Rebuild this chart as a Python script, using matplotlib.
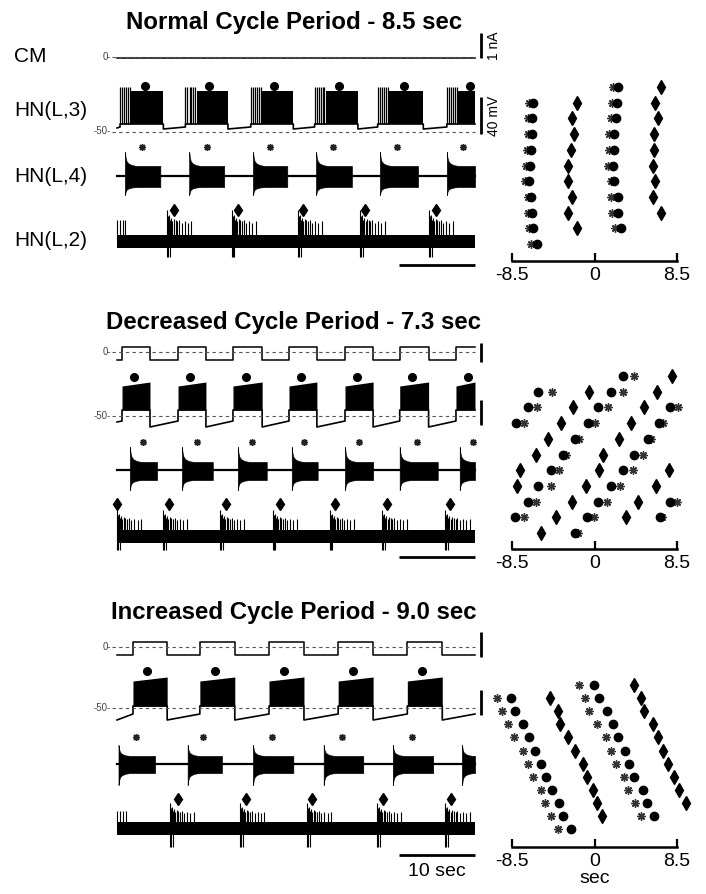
import matplotlib
matplotlib.use('Agg')
import matplotlib.pyplot as plt

plt.rcParams['font.family'] = ['Liberation Sans', 'DejaVu Sans']

W, H = 706, 894
PX_PER_SEC = 7.6      # 10 sec scale bar = 76 px
T0_PX = 117           # left edge of the traces
T_END = 47.1          # length of the traces (sec)

titles = ['Normal Cycle Period - 8.5 sec',
          'Decreased Cycle Period - 7.3 sec',
          'Increased Cycle Period - 9.0 sec']
trace_names = ['CM', 'HN(L,3)', 'HN(L,4)', 'HN(L,2)']
raster_ticks = [-8.5, 0, 8.5]
raster_ticklabels = ['-8.5', '0', '8.5']

# ---------------- traces: event times (sec from trace start) ----------------
# normal
n_cm_up, n_cm_down = [], []
n_hn3_on = [0.4, 9.0, 17.6, 26.0, 34.3, 43.4]
n_hn3_off = [6.1, 14.6, 23.2, 31.7, 40.3, 47.1]
n_hn3_dot = [3.7, 12.1, 20.7, 29.2, 37.7, 46.4]
n_hn4_on = [1.05, 9.5, 17.9, 26.2, 34.6, 43.4]
n_hn4_off = [5.7, 14.1, 22.4, 30.9, 39.6, 47.1]
n_hn4_ast = [3.3, 11.8, 20.1, 28.4, 36.8, 45.5]
n_hn2_on = [6.6, 15.1, 23.8, 32.0, 41.05]
n_hn2_dia = [7.5, 15.9, 24.5, 32.6, 42.0]
n_hn2_first = [0.05, 0.4, 0.75, 1.05]

# decreased
d_cm_up = [0.66, 8.03, 15.26, 22.63, 30.0, 37.2, 44.6]
d_cm_down = [4.34, 11.7, 19.1, 26.3, 33.7, 41.0]
d_hn3_on = [0.66, 8.03, 15.26, 22.63, 30.0, 37.2, 44.6]
d_hn3_off = [4.34, 11.7, 19.1, 26.3, 33.7, 41.0, 47.1]
d_hn3_dot = [2.24, 9.6, 16.97, 24.2, 31.6, 38.8, 46.2]
d_hn4_on = [1.7, 8.55, 15.9, 23.0, 30.0, 37.2, 45.1]
d_hn4_off = [5.26, 12.6, 19.7, 26.4, 33.7, 42.2, 47.1]
d_hn4_ast = [3.42, 10.5, 17.8, 24.6, 31.8, 39.5, 46.8]
d_hn2_on = [0.0, 6.05, 13.55, 20.5, 28.0, 34.9, 43.2]
d_hn2_dia = [0.0, 6.8, 14.3, 21.4, 28.7, 35.5, 43.8]
d_hn2_first = []

# increased
i_cm_up = [2.1, 10.9, 20.0, 29.1, 38.2]
i_cm_down = [6.6, 15.5, 24.6, 33.7, 42.8]
i_hn3_on = [2.1, 10.9, 20.0, 29.1, 38.2]
i_hn3_off = [6.6, 15.5, 24.6, 33.7, 42.8]
i_hn3_dot = [3.95, 12.9, 22.0, 31.05, 40.1]
i_hn4_on = [0.2, 9.3, 17.9, 27.2, 36.3, 45.4]
i_hn4_off = [5.0, 13.8, 23.2, 32.4, 41.6, 47.1]
i_hn4_ast = [2.5, 11.3, 20.4, 29.6, 38.8]
i_hn2_on = [6.97, 16.2, 25.0, 34.2, 43.2]
i_hn2_dia = [8.0, 17.0, 25.7, 35.0, 43.9]
i_hn2_first = [0.05, 0.4, 0.8, 1.2]

# spike pattern inside an HN(L,2) burst (read from one burst)
hn2_spk_dt = [0.0, 0.12, 0.25, 0.4, 0.55, 0.7, 0.9, 1.1, 1.35, 1.6, 1.9, 2.3, 2.7, 3.2]
hn2_spk_h = [1.0, 0.75, 0.8, 0.6, 0.7, 0.55, 0.65, 0.6, 0.55, 0.6, 0.5, 0.55, 0.5, 0.55]
hn2_dn_dt = [0.0, 0.15, 0.35]
# HN(L,4) burst onset envelope
hn4_env_dt = [0.0, 0.08, 0.2, 0.45, 0.9, 1.5]
hn4_env_frac = [0.0, 0.4, 0.65, 0.82, 0.94, 1.0]
# HN(L,3) initial spikes in the normal panel
hn3_lead_dt = [0.0, 0.27, 0.54, 0.8, 1.05, 1.3]

# ---------------- rasters: (row, time in sec) ----------------
n_dot_rows = [1, 2, 3, 4, 5, 6, 7, 8, 9, 10, 0, 1, 2, 3, 4, 5, 6, 7, 8, 9]
n_dot_t = [-6.3, -6.4, -6.4, -6.5, -6.6, -6.7, -6.5, -6.4, -6.3, -5.9,
           2.4, 2.3, 2.2, 2.0, 2.0, 1.9, 2.0, 2.4, 2.4, 2.7]
n_ast_rows = [1, 2, 3, 4, 5, 6, 7, 8, 9, 10, 0, 1, 2, 3, 4, 5, 6, 7, 8, 9]
n_ast_t = [-6.8, -6.9, -6.9, -7.0, -7.1, -7.2, -6.9, -6.9, -6.8, -6.5,
           1.9, 1.8, 1.7, 1.5, 1.5, 1.4, 1.65, 1.65, 1.85, 2.15]
n_dia_rows = [1, 2, 3, 4, 5, 6, 7, 8, 9, 0, 1, 2, 3, 4, 5, 6, 7, 8]
n_dia_t = [-1.8, -2.3, -2.1, -2.4, -2.7, -2.7, -2.3, -2.7, -1.8,
           6.8, 6.2, 6.5, 6.1, 6.1, 6.0, 6.2, 6.0, 6.9]

d_dot_rows = [0, 1, 1, 2, 2, 2, 3, 3, 3, 4, 4, 5, 5, 6, 6, 7, 7, 8, 8, 8, 9, 9, 9, 10]
d_dot_t = [2.9, -5.8, 1.75, -6.9, 0.4, 7.8, -8.1, -0.7, 6.6, -2.0, 5.5, -3.2, 4.1,
           -4.5, 2.9, -5.8, 1.65, -6.9, 0.4, 7.8, -8.2, -0.8, 6.7, -2.0]
d_ast_rows = [0, 1, 1, 2, 2, 2, 3, 3, 3, 4, 4, 5, 5, 6, 6, 7, 7, 8, 8, 8, 9, 9, 9, 10]
d_ast_t = [4.1, -4.4, 2.9, -5.9, 1.4, 8.65, -7.3, 0.1, 7.1, -1.55, 5.8, -2.9, 4.95,
           -3.7, 4.0, -4.5, 2.6, -6.0, 1.25, 8.55, -7.3, -0.1, 6.95, -1.7]
d_dia_rows = [0, 1, 1, 2, 2, 3, 3, 4, 4, 5, 5, 6, 6, 6, 7, 7, 7, 8, 8, 9, 9, 10]
d_dia_t = [8.0, -0.6, 6.4, -2.2, 5.05, -3.5, 3.8, -4.8, 2.5, -6.0, 0.9,
           -7.7, 0.5, 7.7, -8.0, -0.9, 6.3, -2.3, 4.5, -4.0, 3.2, -5.5]

i_dot_rows = [1, 2, 3, 4, 5, 6, 7, 8, 9, 10, 11, 0, 1, 2, 3, 4, 5, 6, 7, 8, 9, 10]
i_dot_t = [-8.65, -8.15, -7.4, -6.7, -6.1, -5.55, -4.95, -4.35, -3.7, -3.2, -2.45,
           -0.1, 0.5, 1.25, 1.95, 2.45, 3.1, 3.6, 4.1, 4.95, 5.45, 6.1]
i_ast_rows = [1, 2, 3, 4, 5, 6, 7, 8, 9, 10, 11, 0, 1, 2, 3, 4, 5, 6, 7, 8, 9, 10]
i_ast_t = [-10.0, -9.5, -8.95, -8.25, -7.4, -6.9, -6.3, -5.55, -5.05, -4.45, -3.8,
           -1.55, -0.95, -0.6, 0.3, 1.15, 1.75, 2.25, 3.0, 3.4, 4.2, 4.75]
i_dia_rows = [1, 2, 3, 4, 5, 6, 7, 8, 9, 10, 0, 1, 2, 3, 4, 5, 6, 7, 8, 9]
i_dia_t = [-4.55, -3.8, -3.6, -2.7, -2.05, -1.15, -0.8, -0.2, 0.3, 0.8,
           4.1, 4.75, 5.05, 6.0, 6.5, 7.1, 7.6, 8.15, 8.75, 9.4]

# ---------------- layout (pixel rows) ----------------
panels = [
    dict(title_y=23, box=(30, 275),
         cm=dict(hi=58, lo=58, zero=56.5, up=n_cm_up, down=n_cm_down, bar=(33, 58)),
         hn3=dict(on=n_hn3_on, off=n_hn3_off, dot=n_hn3_dot, dot_y=86, top0=91, top1=91,
                  spk_top=87, bot=124, first=128, pre=127, post=129, zero=131.5,
                  lead=1.5, bar=(97, 134)),
         hn4=dict(on=n_hn4_on, off=n_hn4_off, ast=n_hn4_ast, ast_y=147, base=176,
                  pk_top=152, pk_bot=195, pl_top=166, pl_bot=187),
         hn2=dict(on=n_hn2_on, dia=n_hn2_dia, first=n_hn2_first, dia_y=210, b_top=235,
                  b_bot=248, tall=210, down=257),
         sbar_y=265,
         raster=dict(top=70, axis=261, row0=87, dy=15.7, dot=(n_dot_rows, n_dot_t),
                     ast=(n_ast_rows, n_ast_t), dia=(n_dia_rows, n_dia_t))),
    dict(title_y=322, box=(335, 565),
         cm=dict(hi=347, lo=360, zero=352, up=d_cm_up, down=d_cm_down, bar=(343, 362)),
         hn3=dict(on=d_hn3_on, off=d_hn3_off, dot=d_hn3_dot, dot_y=377, top0=386, top1=382,
                  spk_top=386, bot=410, first=422, pre=421, post=427, zero=416,
                  lead=0, bar=(400, 425)),
         hn4=dict(on=d_hn4_on, off=d_hn4_off, ast=d_hn4_ast, ast_y=442, base=470,
                  pk_top=447, pk_bot=490, pl_top=462, pl_bot=480),
         hn2=dict(on=d_hn2_on, dia=d_hn2_dia, first=d_hn2_first, dia_y=504, b_top=530,
                  b_bot=543, tall=510, down=550),
         sbar_y=557,
         raster=dict(top=360, axis=549, row0=376, dy=15.7, dot=(d_dot_rows, d_dot_t),
                     ast=(d_ast_rows, d_ast_t), dia=(d_dia_rows, d_dia_t))),
    dict(title_y=613, box=(625, 880),
         cm=dict(hi=642, lo=655, zero=647, up=i_cm_up, down=i_cm_down, bar=(632, 657)),
         hn3=dict(on=i_hn3_on, off=i_hn3_off, dot=i_hn3_dot, dot_y=671, top0=681, top1=677,
                  spk_top=681, bot=706, first=720, pre=714, post=720, zero=708,
                  lead=0, bar=(690, 715)),
         hn4=dict(on=i_hn4_on, off=i_hn4_off, ast=i_hn4_ast, ast_y=737, base=764,
                  pk_top=745, pk_bot=785, pl_top=756, pl_bot=773),
         hn2=dict(on=i_hn2_on, dia=i_hn2_dia, first=i_hn2_first, dia_y=799, b_top=822,
                  b_bot=835, tall=803, down=847),
         sbar_y=855,
         raster=dict(top=670, axis=847, row0=685, dy=13.1, dot=(i_dot_rows, i_dot_t),
                     ast=(i_ast_rows, i_ast_t), dia=(i_dia_rows, i_dia_t))),
]

AST = (8, 2, 0)   # asterisk marker


def px_t(px):
    return (px - T0_PX) / PX_PER_SEC


def draw_cm(ax, c):
    xs, ys = [0.0], [c['lo']]
    events = sorted([(t, c['hi']) for t in c['up']] + [(t, c['lo']) for t in c['down']])
    for t, lev in events:
        xs += [t, t]
        ys += [ys[-1], lev]
    xs.append(T_END)
    ys.append(ys[-1])
    ax.plot(xs, ys, color='black', lw=1.1)
    ax.plot([px_t(112), T_END], [c['zero'], c['zero']], color='#555', lw=0.8, ls=(0, (3, 3)))
    ax.text(px_t(111), c['zero'], '0-', ha='right', va='center', fontsize=7, color='#444')


def draw_hn3(ax, c):
    xs, ys = [0.0], [c['first']]
    for s, e in zip(c['on'], c['off']):
        xs += [s, s, e]
        ys += [c['pre'], c['bot'], c['bot']]
        if e < T_END:
            xs += [e]
            ys += [c['post']]
        if c['lead'] > 0:
            ax.vlines([s + d for d in hn3_lead_dt], c['bot'], c['spk_top'], color='black', lw=0.9)
        ax.fill_between([s + c['lead'], e], [c['top0'], c['top1']], c['bot'], color='black', lw=0)
    if xs[-1] < T_END:
        xs.append(T_END)
        ys.append(c['pre'])
    ax.plot(xs, ys, color='black', lw=1.2)
    ax.plot([px_t(112), T_END], [c['zero'], c['zero']], color='#555', lw=0.8, ls=(0, (3, 3)))
    ax.text(px_t(111), c['zero'], '-50-', ha='right', va='center', fontsize=7, color='#444')
    ax.plot(c['dot'], [c['dot_y']] * len(c['dot']), 'o', color='black', ms=5.5, clip_on=False)


def draw_hn4(ax, c):
    ax.plot([0, T_END], [c['base'], c['base']], color='black', lw=1.6)
    for s, e in zip(c['on'], c['off']):
        xs = [s + d for d in hn4_env_dt if s + d < e] + [e]
        fr = hn4_env_frac[:len(xs) - 1] + [1.0]
        tops = [c['pk_top'] + f * (c['pl_top'] - c['pk_top']) for f in fr]
        bots = [c['pk_bot'] + f * (c['pl_bot'] - c['pk_bot']) for f in fr]
        ax.fill_between(xs, tops, bots, color='black', lw=0.5)
    ax.plot(c['ast'], [c['ast_y']] * len(c['ast']), marker=AST, ls='none', color='#222',
            ms=5, mew=1.0, clip_on=False)


def draw_hn2(ax, c):
    mid = 0.5 * (c['b_top'] + c['b_bot'])
    ax.fill_between([0, T_END], c['b_top'], c['b_bot'], color='black', lw=0)
    typ = c['b_top'] - 0.6 * (c['b_top'] - c['tall'])
    if c['first']:
        ax.vlines(c['first'], mid, typ, color='black', lw=0.8)
    for s in c['on']:
        ts = [s + d for d in hn2_spk_dt if s + d < T_END]
        tops = [c['b_top'] - h * (c['b_top'] - c['tall']) for h in hn2_spk_h[:len(ts)]]
        ax.vlines(ts, mid, tops, color='black', lw=0.8)
        ax.vlines([s + d for d in hn2_dn_dt], mid, c['down'], color='black', lw=0.8)
    ax.plot(c['dia'], [c['dia_y']] * len(c['dia']), marker='d', ls='none', color='black',
            ms=6.5, clip_on=False)


fig = plt.figure(figsize=(W / 100, H / 100), dpi=100)

for k, p in enumerate(panels):
    y0, y1 = p['box']
    ax = fig.add_axes([95 / W, 1 - y1 / H, (500 - 95) / W, (y1 - y0) / H])
    ax.set_xlim(px_t(95), px_t(500))
    ax.set_ylim(y1, y0)
    ax.axis('off')

    fig.text(294 / W, 1 - p['title_y'] / H, titles[k], ha='center', va='center',
             fontsize=17.3, fontweight='bold')

    draw_cm(ax, p['cm'])
    draw_hn3(ax, p['hn3'])
    draw_hn4(ax, p['hn4'])
    draw_hn2(ax, p['hn2'])

    # scale bars
    xb = px_t(481)
    ax.plot([xb, xb], p['cm']['bar'], color='black', lw=2, solid_capstyle='butt')
    ax.plot([xb, xb], p['hn3']['bar'], color='black', lw=2, solid_capstyle='butt')
    ax.plot([T_END - 10, T_END], [p['sbar_y']] * 2, color='black', lw=2, solid_capstyle='butt')
    if k == 0:
        ax.text(px_t(494), sum(p['cm']['bar']) / 2, '1 nA', rotation=90, ha='center',
                va='center', fontsize=10)
        ax.text(px_t(494), sum(p['hn3']['bar']) / 2, '40 mV', rotation=90, ha='center',
                va='center', fontsize=10)
        levels = [p['cm']['zero'], 110, p['hn4']['base'], 240]
        for name, yy in zip(trace_names, levels):
            fig.text(14 / W, 1 - yy / H, name, ha='left', va='center', fontsize=15)
    if k == 2:
        ax.text(T_END - 5, 872, '10 sec', ha='center', va='center', fontsize=14)

    # raster
    r = p['raster']
    rax = fig.add_axes([512 / W, 1 - r['axis'] / H, (677 - 512) / W, (r['axis'] - r['top']) / H])
    rax.set_xlim(-8.5, 8.5)
    rax.set_ylim((r['axis'] - r['row0']) / r['dy'], (r['top'] - r['row0']) / r['dy'])
    rax.patch.set_visible(False)
    for sp in ['top', 'right', 'left']:
        rax.spines[sp].set_visible(False)
    rax.spines['bottom'].set_linewidth(1.8)
    rax.spines['bottom'].set_bounds(-8.5, 8.5)
    rax.set_yticks([])
    rax.set_xticks(raster_ticks)
    rax.set_xticklabels(raster_ticklabels)
    rax.tick_params(axis='x', direction='in', length=6, width=1.6, labelsize=14, pad=4)
    rax.plot(r['ast'][1], r['ast'][0], marker=AST, ls='none', color='#333', ms=6,
             mew=1.0, clip_on=False)
    rax.plot(r['dot'][1], r['dot'][0], 'o', color='black', ms=6, clip_on=False)
    rax.plot(r['dia'][1], r['dia'][0], 'd', color='black', ms=6.8, clip_on=False)
    if k == 2:
        rax.set_xlabel('sec', fontsize=14, labelpad=0)

fig.savefig('out.png', dpi=100)
